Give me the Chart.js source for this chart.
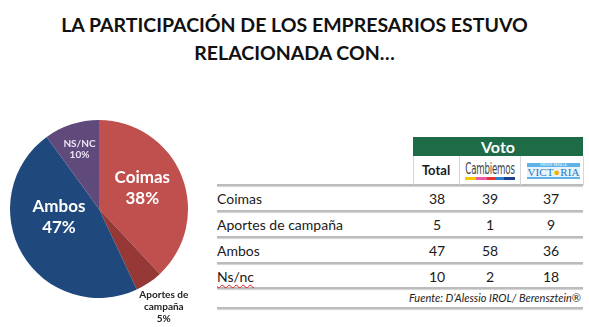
<!DOCTYPE html>
<html>
<head>
<meta charset="utf-8">
<script src="https://cdn.jsdelivr.net/npm/chart.js@4.4.1/dist/chart.umd.min.js"></script>
<style>
    html, body { margin:0; padding:0; background:#fff; }
    body { width:589px; height:327px; position:relative; overflow:hidden; font-family:Lato, "Open Sans", sans-serif; color:#1a1a1a; }
    #title { position:absolute; left:0; top:11px; width:589px; text-align:center; font-weight:700; font-size:19.5px; line-height:28px; color:#111; }
    #pieBox { position:absolute; left:0; top:110px; width:200px; height:217px; }
    .hline { position:absolute; height:2px; background:#bcbcbc; box-shadow:0 1px 1px rgba(0,0,0,0.18); }
    .vline { position:absolute; width:1px; background:#d6d6d6; }
    .cell { position:absolute; font-size:14px; line-height:18px; }
    .num { text-align:center; width:50px; }
    #voto { position:absolute; left:413px; top:137px; width:170px; height:19px; background:#1e6b47; color:#fff; font-weight:700; font-size:16px; line-height:19px; text-align:center; }
    #hTotal { position:absolute; left:413px; top:161px; width:46px; text-align:center; font-weight:700; font-size:13px; line-height:18px; }
    #hCamb { position:absolute; left:460px; top:162px; width:60px; height:18px; }
    #hCamb .word { position:absolute; left:50%; top:0; font-family:"DejaVu Sans Condensed", "Liberation Sans Narrow", sans-serif; font-size:15px; color:#3f3f3f; line-height:14px; white-space:nowrap; letter-spacing:-0.3px; transform:translateX(-50%) scaleX(0.64); transform-origin:center; }
    #hCamb .stripe { position:absolute; left:5px; top:15px; width:50px; height:3px; background:linear-gradient(90deg,#f6c800 0 22%,#ec5aa1 22% 44%,#e8322c 44% 60%,#2b7fd0 60% 78%,#1f3e8c 78% 100%); }
    #hVic { position:absolute; left:527px; top:163px; width:53px; height:16px; background:#e8f3fb; overflow:hidden; }
    #hVic .top { height:4px; background:#5fb2e6; color:#fff; font-size:3px; line-height:4px; text-align:center; letter-spacing:0.2px; }
    #hVic .word { font-family:"Liberation Serif", serif; font-size:11px; line-height:10px; color:#2479c6; text-align:center; letter-spacing:0.1px; }
    #hVic .sun { color:#f0b400; }
    #hVic .bot { height:2px; background:#5fb2e6; }
    .ns { text-decoration-line:underline; text-decoration-style:wavy; text-decoration-color:#e02020; text-decoration-thickness:1px; text-underline-offset:2px; }
    #fuente { position:absolute; right:8px; top:290px; font-style:italic; font-size:11px; line-height:16px; color:#222; }
</style>
</head>
<body>

<div id="title">LA PARTICIPACIÓN DE LOS EMPRESARIOS ESTUVO<br>RELACIONADA CON…</div>

<div id="pieBox"><canvas id="pieChart"></canvas></div>

<div id="voto">Voto</div>
<div id="hTotal">Total</div>
<div id="hCamb"><div class="word">Cambiemos</div><div class="stripe"></div></div>
<div id="hVic"><div class="top">FRENTE PARA LA</div><div class="word">VICT<span class="sun">●</span>RIA</div><div class="bot"></div></div>

<div id="table"></div>
<div id="fuente">Fuente: D’Alessio IROL/ Berensztein®</div>

<script>
// ======================================
// DATA
// ======================================

const sliceLabels = ["Coimas", "Aportes de campaña", "Ambos", "NS/NC"];
const sliceValues = [38, 5, 47, 10];
const sliceColors = ["#c0504d", "#953836", "#1f497d", "#604a7b"];

const rowLabels = ["Coimas", "Aportes de campaña", "Ambos", "Ns/nc"];
const totalCol = [38, 5, 47, 10];
const cambiemosCol = [39, 1, 58, 2];
const victoriaCol = [37, 9, 36, 18];

// label text lines and placement inside each slice (t = along arc, r = share of radius)
const labelLines = [
    ["Coimas", sliceValues[0] + "%"],
    ["Aportes de", "campaña", sliceValues[1] + "%"],
    ["Ambos", sliceValues[2] + "%"],
    ["NS/NC", sliceValues[3] + "%"]
];
const labelSpots = [
    { t:0.47, r:0.54, size:17, gap:21, color:"#ffffff" },
    { t:0.54, r:1.32, size:10, gap:12, color:"#222222" },
    { t:0.61, r:0.46, size:17, gap:21, color:"#ffffff" },
    { t:0.50, r:0.71, size:10, gap:11, color:"#ece4f4" }
];

// ======================================
// PIE LABELS
// ======================================

const sliceText = {
    id:"sliceText",
    afterDatasetsDraw(chart){
        const ctx = chart.ctx;
        const arcs = chart.getDatasetMeta(0).data;
        ctx.save();
        ctx.textAlign = "center";
        ctx.textBaseline = "middle";
        arcs.forEach((arc, i)=>{
            const p = arc.getProps(["x","y","startAngle","endAngle","outerRadius"], true);
            const spot = labelSpots[i];
            const a = p.startAngle + spot.t * (p.endAngle - p.startAngle);
            const cx = p.x + Math.cos(a) * p.outerRadius * spot.r;
            const cy = p.y + Math.sin(a) * p.outerRadius * spot.r;
            const lines = labelLines[i];
            ctx.fillStyle = spot.color;
            ctx.font = "700 " + spot.size + "px Lato, sans-serif";
            lines.forEach((line, k)=>{
                const y = cy + (k - (lines.length - 1) / 2) * spot.gap;
                ctx.fillText(line, cx, y);
            });
        });
        ctx.restore();
    }
};

new Chart(
    document.getElementById("pieChart"),
    {
        type:"pie",
        data:{
            labels:sliceLabels,
            datasets:[{
                data:sliceValues,
                backgroundColor:sliceColors,
                borderWidth:0
            }]
        },
        options:{
            responsive:true,
            maintainAspectRatio:false,
            animation:false,
            layout:{ padding:{ left:10, right:12, top:10, bottom:29 } },
            plugins:{
                legend:{ display:false },
                tooltip:{ enabled:false }
            }
        },
        plugins:[sliceText]
    }
);

// ======================================
// TABLE
// ======================================

function buildTable(){

    const box = document.getElementById("table");
    const lineYs = [185, 211, 237, 263, 288, 308];

    lineYs.forEach(y=>{
        const l = document.createElement("div");
        l.className = "hline";
        l.style.left = "217px";
        l.style.width = "366px";
        l.style.top = (y - 1) + "px";
        box.appendChild(l);
    });

    [413, 459, 520, 583].forEach(x=>{
        const v = document.createElement("div");
        v.className = "vline";
        v.style.left = x + "px";
        v.style.top = "156px";
        v.style.height = "29px";
        box.appendChild(v);
    });

    const colX = [437, 490, 551];
    const cols = [totalCol, cambiemosCol, victoriaCol];

    rowLabels.forEach((label, i)=>{
        const mid = (lineYs[i] + lineYs[i + 1]) / 2 + 1;

        const c = document.createElement("div");
        c.className = "cell";
        c.style.left = "217px";
        c.style.top = (mid - 9) + "px";
        c.innerHTML = label === "Ns/nc" ? '<span class="ns">Ns/nc</span>' : label;
        box.appendChild(c);

        cols.forEach((col, j)=>{
            const n = document.createElement("div");
            n.className = "cell num";
            n.style.left = (colX[j] - 25) + "px";
            n.style.top = (mid - 9) + "px";
            n.innerText = col[i];
            box.appendChild(n);
        });
    });

}

buildTable();
</script>
</body>
</html>
